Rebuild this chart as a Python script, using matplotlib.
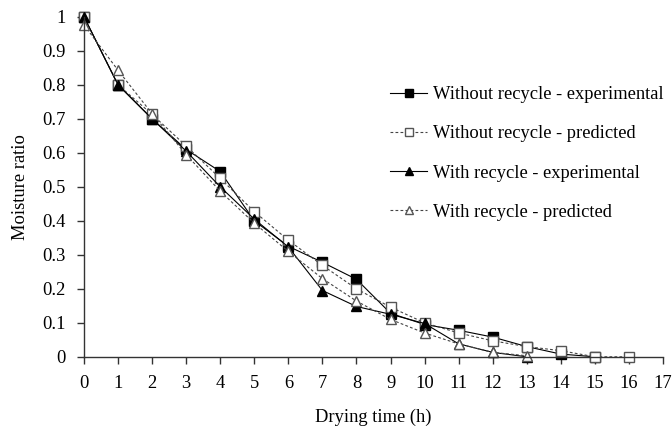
import matplotlib
matplotlib.use("Agg")
import matplotlib.pyplot as plt

plt.rcParams['font.family'] = ['Liberation Serif', 'DejaVu Serif']

# 数据
t_wo_exp = [0, 1, 2, 3, 4, 5, 6, 7, 8, 9, 10, 11, 12, 13, 14, 15]
mr_wo_exp = [1.0, 0.80, 0.70, 0.61, 0.545, 0.40, 0.325, 0.278, 0.228, 0.128, 0.095, 0.078, 0.058, 0.03, 0.008, 0.0]

t_wo_pred = [0, 1, 2, 3, 4, 5, 6, 7, 8, 9, 10, 11, 12, 13, 14, 15, 16]
mr_wo_pred = [1.0, 0.80, 0.713, 0.62, 0.525, 0.427, 0.343, 0.269, 0.20, 0.146, 0.10, 0.07, 0.047, 0.03, 0.018, 0.0, 0.0]

t_w_exp = [0, 1, 2, 3, 4, 5, 6, 7, 8, 9, 10, 11, 12, 13]
mr_w_exp = [1.0, 0.80, 0.70, 0.605, 0.50, 0.405, 0.323, 0.195, 0.148, 0.125, 0.098, 0.038, 0.013, 0.0]

t_w_pred = [0, 1, 2, 3, 4, 5, 6, 7, 8, 9, 10, 11, 12, 13]
mr_w_pred = [0.976, 0.843, 0.715, 0.595, 0.487, 0.393, 0.31, 0.23, 0.164, 0.11, 0.07, 0.038, 0.013, 0.003]

labels = ['Without recycle - experimental', 'Without recycle - predicted',
          'With recycle - experimental', 'With recycle - predicted']

fig = plt.figure(figsize=(6.72, 4.33), dpi=100)
ax = fig.add_axes([0.125, 0.176, 0.8616, 0.785])

ms = 7
fs = 13.3
dash = (0, (2.5, 2))
ax.plot(t_wo_exp, mr_wo_exp, color='black', lw=0.8, marker='s', ms=ms,
        mfc='black', mec='black', label=labels[0], clip_on=False)
ax.plot(t_wo_pred, mr_wo_pred, color='#444444', lw=0.8, ls=dash, marker='s', ms=ms,
        mfc='white', mec='#555555', label=labels[1], clip_on=False)
ax.plot(t_w_exp, mr_w_exp, color='black', lw=0.8, marker='^', ms=ms,
        mfc='black', mec='black', label=labels[2], clip_on=False)
ax.plot(t_w_pred, mr_w_pred, color='#444444', lw=0.8, ls=dash, marker='^', ms=ms,
        mfc='white', mec='#555555', label=labels[3], clip_on=False)

ax.set_xlim(0, 17)
ax.set_ylim(0, 1)
ax.set_xticks(range(0, 18))
yt = [i / 10 for i in range(11)]
ax.set_yticks(yt)
ax.set_yticklabels(['0'] + ['%.1f' % v for v in yt[1:-1]] + ['1'])

for s in ['top', 'right']:
    ax.spines[s].set_visible(False)
for s in ['left', 'bottom']:
    ax.spines[s].set_color('#333333')
    ax.spines[s].set_linewidth(1.0)
ax.tick_params(axis='both', direction='out', length=5, width=1, color='#333333',
               labelsize=fs, pad=8)

ax.set_xlabel('Drying time (h)', fontsize=fs, labelpad=12)
ax.set_ylabel('Moisture ratio', fontsize=fs, labelpad=10)

ax.legend(loc='upper left', bbox_to_anchor=(0.5, 0.845), frameon=False,
          fontsize=fs, handlelength=2.0, handletextpad=0.3, labelspacing=1.2,
          markerscale=0.75)

fig.savefig('out.png', dpi=100)
